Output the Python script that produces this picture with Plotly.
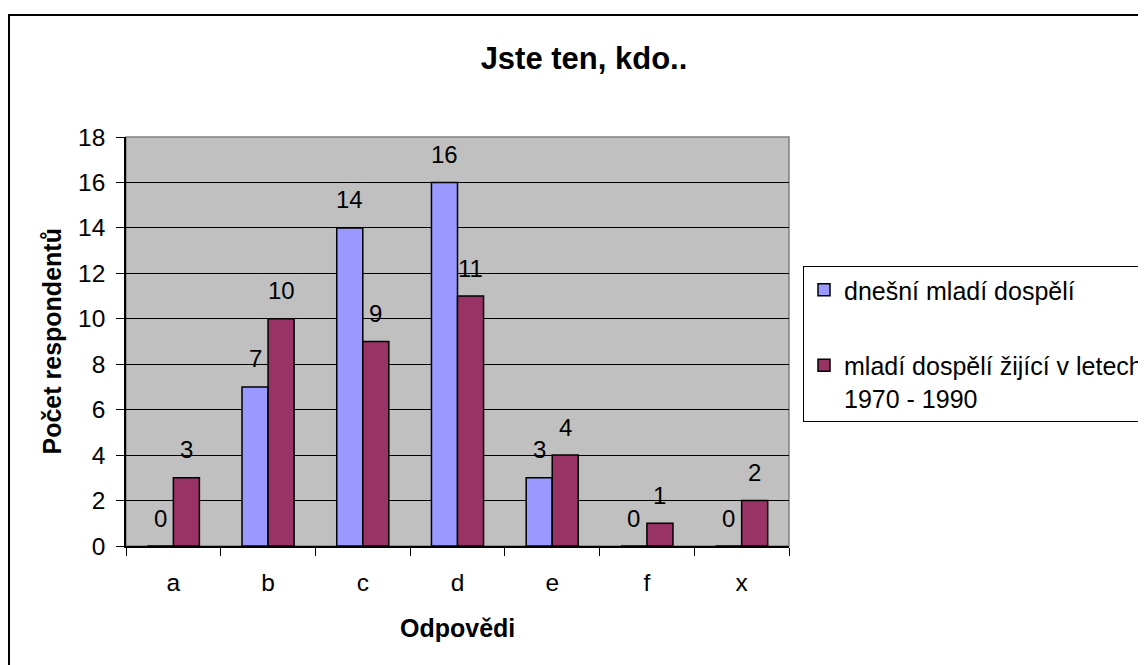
import plotly.graph_objects as go

categories = ["a", "b", "c", "d", "e", "f", "x"]
series_names = ["dnešní mladí dospělí", "mladí dospělí žijící v letech<br>1970 - 1990"]
values_today = [0, 7, 14, 16, 3, 0, 0]
values_1970 = [3, 10, 9, 11, 4, 1, 2]
y_ticks = list(range(0, 19, 2))

title_text = "Jste ten, kdo.."
x_title = "Odpovědi"
y_title = "Počet respondentů"

FONT = "Liberation Sans, Arial, sans-serif"
BLUE = "#9999FF"
MAROON = "#993366"

OFF = 8  # page body margin
W, H = 1146 - OFF, 665 - OFF
# plot area in screen pixels: x 126..789, y 137..546
L, T = 126 - OFF, 137 - OFF
R, B = W - (789 - OFF), H - (546 - OFF)
pw, ph = W - L - R, H - T - B


def px_x(sx):
    return (sx - OFF - L) / pw


def px_y(sy):
    return (H - B - (sy - OFF)) / ph


fig = go.Figure()
for i, (name, vals, col) in enumerate([(series_names[0], values_today, BLUE),
                                       (series_names[1], values_1970, MAROON)]):
    fig.add_trace(go.Bar(
        x=categories, y=vals, name=name, legendgroup=f"g{i}",
        marker=dict(color=col, line=dict(color="black", width=1.5)),
    ))

annotations = []
for vals, shift in [(values_today, -13), (values_1970, 13)]:
    for c, v in zip(categories, vals):
        annotations.append(dict(
            x=c, y=v, xref="x", yref="y", text=str(v), showarrow=False,
            xshift=shift, yshift=28, yanchor="middle", xanchor="center",
            font=dict(family=FONT, size=24, color="black"),
        ))

annotations.append(dict(
    x=px_x(51), y=0.5, xref="paper", yref="paper", text=f"<b>{y_title}</b>",
    textangle=-90, showarrow=False, xanchor="center", yanchor="middle",
    font=dict(family=FONT, size=25, color="black"),
))
annotations.append(dict(
    x=0.5, y=px_y(628), xref="paper", yref="paper", text=f"<b>{x_title}</b>",
    showarrow=False, xanchor="center", yanchor="middle",
    font=dict(family=FONT, size=25, color="black"),
))

shapes = [
    # outer chart border
    dict(type="rect", xref="paper", yref="paper",
         x0=px_x(9), x1=px_x(1180), y0=px_y(700), y1=px_y(15),
         line=dict(color="black", width=2), fillcolor="rgba(0,0,0,0)", layer="above"),
    # plot area border (gray)
    dict(type="rect", xref="paper", yref="paper", x0=0, x1=1, y0=0, y1=1,
         line=dict(color="#808080", width=1.5), fillcolor="rgba(0,0,0,0)", layer="between"),
]

fig.update_layout(
    width=W, height=H,
    margin=dict(l=L, r=R, t=T, b=B, autoexpand=False),
    paper_bgcolor="white", plot_bgcolor="#C0C0C0",
    barmode="group", bargap=0.45, bargroupgap=0,
    font=dict(family=FONT, size=24, color="black"),
    title=dict(text=f"<b>{title_text}</b>", x=(584 - OFF) / W, y=1 - (58 - OFF) / H,
               xref="container", yref="container", xanchor="center", yanchor="middle",
               font=dict(family=FONT, size=31, color="black")),
    showlegend=True,
    legend=dict(x=px_x(803), y=px_y(266), xanchor="left", yanchor="top",
                bordercolor="black", borderwidth=1, bgcolor="white",
                font=dict(family=FONT, size=25, color="black"),
                tracegroupgap=40, itemwidth=30, traceorder="grouped", valign="top"),
    annotations=annotations,
    shapes=shapes,
)
fig.update_xaxes(
    type="category", tickson="boundaries", ticks="outside", ticklen=8,
    tickcolor="black", tickwidth=1, showline=True, linecolor="black", linewidth=1.5,
    showgrid=False, ticklabelstandoff=14, tickfont=dict(size=24.5),
)
fig.update_yaxes(
    range=[0, 18], tickvals=y_ticks, ticks="outside", ticklen=8,
    tickcolor="black", tickwidth=1, showline=True, linecolor="black", linewidth=1.5,
    showgrid=True, gridcolor="black", gridwidth=1, zeroline=False,
    ticklabelstandoff=6, tickfont=dict(size=24.5),
)

fig.write_html("out.html")
